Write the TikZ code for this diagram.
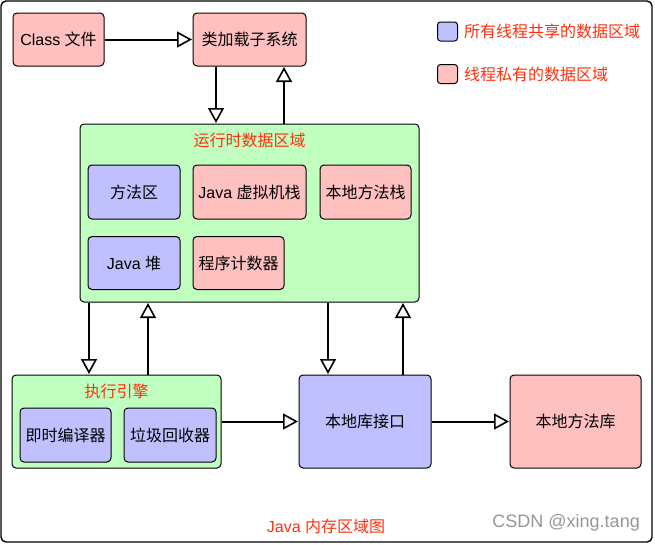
\documentclass[tikz,border=0pt]{standalone}
\usepackage{fontspec}
\setmainfont{Liberation Sans}
\newfontfamily\cjk{Noto Sans CJK SC}
\usetikzlibrary{arrows.meta}
\definecolor{pinkf}{RGB}{255,192,192}
\definecolor{bluef}{RGB}{192,192,255}
\definecolor{greenf}{RGB}{192,255,192}
\definecolor{redt}{RGB}{255,48,16}
\definecolor{grayt}{RGB}{150,150,150}
\begin{document}
\begin{tikzpicture}[x=1pt,y=-1pt,
  box/.style={draw=black, line width=1pt, rounded corners=4pt, inner sep=0pt, align=center, font=\fontsize{16}{19}\selectfont},
  pinkbox/.style={box, fill=pinkf},
  bluebox/.style={box, fill=bluef},
  greenbox/.style={box, fill=greenf},
  title/.style={inner sep=0pt, text=redt, font=\fontsize{16}{19}\selectfont},
  arr/.style={line width=2pt, -{Triangle[open, length=15pt, width=16pt, line width=1.6pt]}, shorten >=0.5pt}
]
\useasboundingbox (0,0) rectangle (655,544);
\draw[line width=1.4pt, rounded corners=5pt] (1,1) rectangle (652,542);

% top row
\node[pinkbox, minimum width=91pt, minimum height=53pt] (cls) at (58.5,39.5) {Class {\cjk 文件}};
\node[pinkbox, minimum width=113pt, minimum height=53pt] (loader) at (249.5,39.5) {\cjk 类加载子系统};

% runtime data area
\node[greenbox, minimum width=339pt, minimum height=178pt] (rt) at (249.5,213) {};
\node[title] (rtt) at (249.5,140) {\cjk 运行时数据区域};
\node[bluebox, minimum width=92pt, minimum height=54pt] (ma) at (134,192) {\cjk 方法区};
\node[pinkbox, minimum width=113pt, minimum height=54pt] (jvms) at (249.5,192) {Java {\cjk 虚拟机栈}};
\node[pinkbox, minimum width=91pt, minimum height=54pt] (nms) at (365.5,192) {\cjk 本地方法栈};
\node[bluebox, minimum width=92pt, minimum height=53pt] (heap) at (134,263) {Java {\cjk 堆}};
\node[pinkbox, minimum width=91pt, minimum height=53pt] (pc) at (238.5,263) {\cjk 程序计数器};

% execution engine
\node[greenbox, minimum width=209pt, minimum height=93pt] (exe) at (116.5,421.5) {};
\node[title] (exet) at (116.5,391) {\cjk 执行引擎};
\node[bluebox, minimum width=91pt, minimum height=54pt] (jit) at (65.5,435) {\cjk 即时编译器};
\node[bluebox, minimum width=92pt, minimum height=54pt] (gc) at (170,435) {\cjk 垃圾回收器};

% native
\node[bluebox, minimum width=132pt, minimum height=93pt] (nli) at (365,421.5) {\cjk 本地库接口};
\node[pinkbox, minimum width=131pt, minimum height=93pt] (nml) at (575.5,421.5) {\cjk 本地方法库};

% legend
\node[bluebox, rounded corners=3pt, minimum width=20pt, minimum height=19pt] (lg1) at (447.5,31.5) {};
\node[title, anchor=west] (lg1t) at (464,31.5) {\cjk 所有线程共享的数据区域};
\node[pinkbox, rounded corners=3pt, minimum width=20pt, minimum height=19pt] (lg2) at (447.5,74) {};
\node[title, anchor=west] (lg2t) at (464,74) {\cjk 线程私有的数据区域};

% captions
\node[title] (cap) at (326,526) {Java {\cjk 内存区域图}};
\node[inner sep=0pt, anchor=east, text=grayt, font=\fontsize{18}{21}\selectfont] (wm) at (640,523) {CSDN @xing.tang};

% connectors
\draw[arr] (cls.east) -- (loader.west);
\draw[arr] (loader.south -| 216,0) -- (rt.north -| 216,0);
\draw[arr] (rt.north -| 284,0) -- (loader.south -| 284,0);
\draw[arr] (rt.south -| 89,0) -- (exe.north -| 89,0);
\draw[arr] (exe.north -| 148,0) -- (rt.south -| 148,0);
\draw[arr] (rt.south -| 328,0) -- (nli.north -| 328,0);
\draw[arr] (nli.north -| 403,0) -- (rt.south -| 403,0);
\draw[arr] (exe.east) -- (nli.west);
\draw[arr] (nli.east) -- (nml.west);
\end{tikzpicture}
\end{document}
